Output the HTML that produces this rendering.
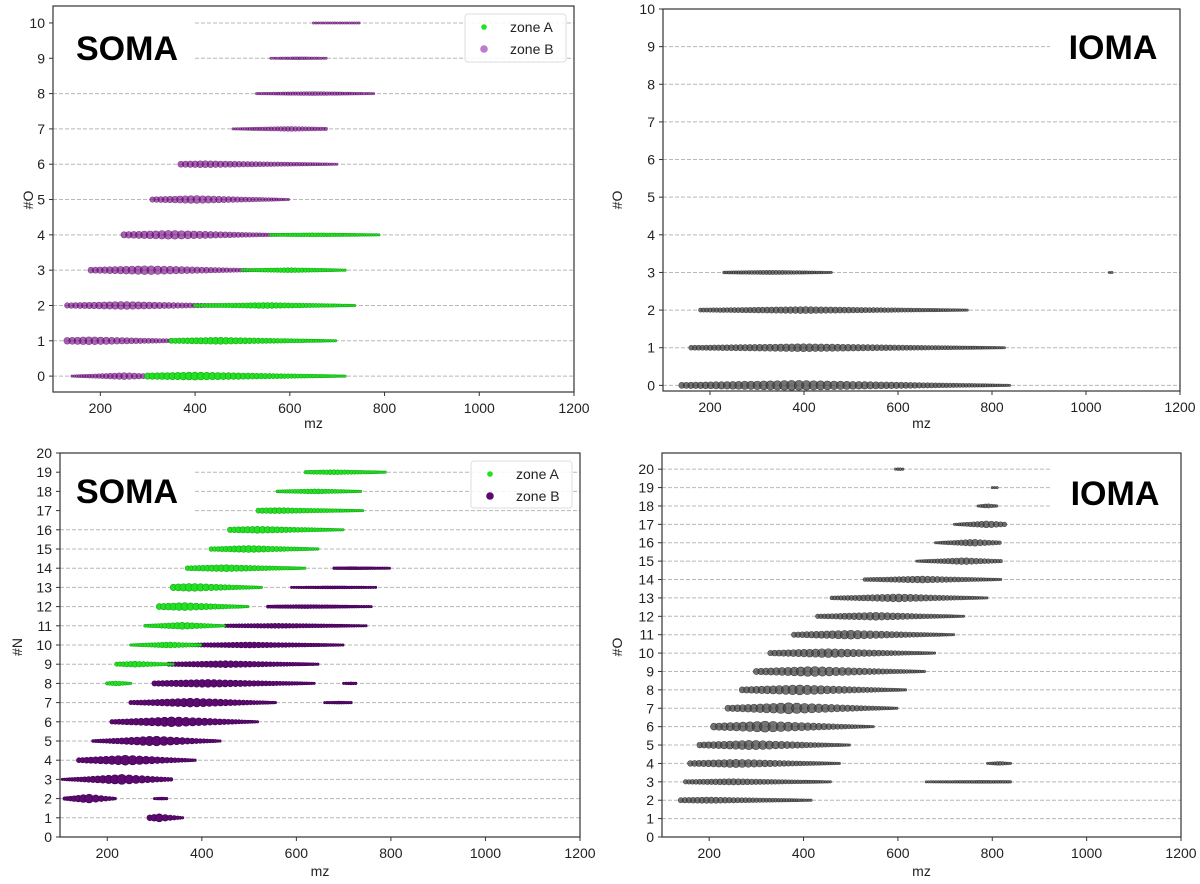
<!DOCTYPE html>
<html><head><meta charset="utf-8">
<style>
html,body{margin:0;padding:0;background:#fff;}
svg{display:block;font-family:"Liberation Sans",sans-serif;}
</style></head>
<body>
<svg id="fig" width="1200" height="884" viewBox="0 0 1200 884" xmlns="http://www.w3.org/2000/svg"></svg>
<script>
// Row tuples: [level, mzFrom, mzTo, mzPeak, peakMarkerRadius]
const somaOxZoneB = [[0,140,320,250,3.5],[1,130,420,180,4],[2,130,520,250,4],[3,180,560,300,4.5],[4,250,600,350,4.5],[5,310,600,400,4],[6,370,700,420,3.5],[7,480,680,600,2.5],[8,530,780,650,2],[9,560,680,620,1.5],[10,650,750,700,1.2]];
const somaOxZoneA = [[0,300,720,400,4],[1,350,700,450,3.5],[2,400,740,550,3],[3,500,720,600,2.5],[4,560,790,650,2]];
const iomaOx = [[0,140,840,380,5],[1,160,830,400,4],[2,180,750,400,3.5],[3,230,460,330,2.2],[3,1050,1056,1053,1.2]];
const somaNZoneB = [[1,290,360,310,4],[2,110,220,160,4.5],[2,300,330,315,1.5],[3,105,340,230,5],[4,140,390,240,5],[5,170,440,300,5],[6,210,520,340,5],[7,250,560,380,4.5],[7,660,720,690,1.5],[8,300,640,410,4],[8,700,730,715,1.5],[9,330,650,450,3.5],[10,380,700,500,3],[11,450,750,560,2.5],[12,540,760,620,2],[13,590,770,680,1.5],[14,680,800,720,1.5]];
const somaNZoneA = [[8,200,250,220,2.5],[9,220,340,260,3],[10,250,400,330,3],[11,280,450,360,3.5],[12,310,500,360,4],[13,340,530,380,4],[14,370,620,450,3.5],[15,420,650,500,3.5],[16,460,700,520,3.5],[17,520,740,560,3],[18,560,740,640,2.5],[19,620,790,680,2.5]];
const iomaOxN = [[2,140,420,200,3.2],[3,150,460,250,3.2],[3,660,840,780,1.5],[4,160,480,260,4.2],[4,790,840,815,2],[5,180,500,290,4.8],[6,210,550,320,5.5],[7,240,600,370,5.5],[8,270,620,390,5],[9,300,660,420,5],[10,330,680,450,4.5],[11,380,720,500,4.5],[12,430,740,550,4],[13,460,790,600,4],[14,530,820,650,3.5],[15,640,820,740,3.5],[16,680,820,760,3.5],[17,720,830,790,3.5],[18,770,810,790,2.2],[19,800,810,805,1.2],[20,595,612,603,1.5]];
const xTicks = [200,400,600,800,1000,1200];

const NS='http://www.w3.org/2000/svg';
const svg=document.getElementById('fig');
function mk(tag,attrs,parent){const e=document.createElementNS(NS,tag);for(const k in attrs)e.setAttribute(k,attrs[k]);(parent||svg).appendChild(e);return e;}

const panels=[
 {key:'top-left',x0:53,x1:574,top:6,bottom:392,ymin:-0.45,ymax:10.48,nTicks:10,ylabel:'#O',ylx:33,yly:200,mzy:428,title:'SOMA',tx:127,ty:60,
  series:[{d:somaOxZoneB,fill:'rgba(110,0,125,0.6)',stroke:'rgba(80,0,95,0.6)',name:'zone-b'},{d:somaOxZoneA,fill:'#22e022',stroke:'#15a815',name:'zone-a'}],
  cut:[[9,195],[10,195]],legend:{x:465,y:14,w:101,h:48,b:'rgba(180,110,200,0.9)'}},
 {key:'top-right',x0:663,x1:1180,top:9,bottom:391,ymin:-0.15,ymax:10,nTicks:10,ylabel:'#O',ylx:622,yly:200,mzy:428,title:'IOMA',tx:1113,ty:59,
  series:[{d:iomaOx,fill:'rgba(70,70,70,0.75)',stroke:'rgba(30,30,30,0.7)',name:'ioma'}],end:[[9,1050]]},
 {key:'bottom-left',x0:60,x1:580,top:453,bottom:837,ymin:0,ymax:20,nTicks:20,ylabel:'#N',ylx:22,yly:647,mzy:876,title:'SOMA',tx:127,ty:503,
  series:[{d:somaNZoneB,fill:'#5c0a70',stroke:'#3e0050',name:'zone-b'},{d:somaNZoneA,fill:'#22e022',stroke:'#15a815',name:'zone-a'}],
  cut:[[17,195],[18,195],[19,195]],legend:{x:471,y:461,w:101,h:47,b:'#5c0a70'}},
 {key:'bottom-right',x0:662,x1:1181,top:453,bottom:837,ymin:0,ymax:20.88,nTicks:20,ylabel:'#O',ylx:622,yly:647,mzy:876,title:'IOMA',tx:1115,ty:505,
  series:[{d:iomaOxN,fill:'rgba(70,70,70,0.75)',stroke:'rgba(30,30,30,0.7)',name:'ioma'}],end:[[18,1052],[19,1052],[20,1052]]}
];

panels.forEach(p=>{
  const g=mk('g',{});
  
  
  const X=v=>p.x0+(v-100)/1100*(p.x1-p.x0);
  const Y=v=>p.bottom-(v-p.ymin)/(p.ymax-p.ymin)*(p.bottom-p.top);
  for(let i=0;i<=p.nTicks;i++){
    let xs=p.x0,xe=p.x1;
    (p.cut||[]).forEach(c=>{if(c[0]===i)xs=c[1];});
    (p.end||[]).forEach(c=>{if(c[0]===i)xe=c[1];});
    const l=mk('line',{x1:xs,x2:xe,y1:Y(i),y2:Y(i),stroke:'#b8b8b8','stroke-width':1,'stroke-dasharray':'4,2'},g);
    
    
    const t=mk('text',{x:p.x0-8,y:Y(i)+5,'text-anchor':'end','font-size':14,fill:'#222'},g);
    t.textContent=i;
    
    
    mk('line',{x1:p.x0-4,x2:p.x0,y1:Y(i),y2:Y(i),stroke:'#333'},g);
  }
  xTicks.forEach(v=>{
    mk('line',{x1:X(v),x2:X(v),y1:p.bottom,y2:p.bottom+4,stroke:'#333'},g);
    const t=mk('text',{x:X(v),y:p.bottom+21,'text-anchor':'middle','font-size':14,fill:'#222'},g);
    t.textContent=v;
    
    
  });
  p.series.forEach(s=>{
    const sg=mk('g',{},g);
    
    
    s.d.forEach(r=>{
      const [lvl,a,b,pk,rm]=r;
      const hw=Math.max(pk-a,b-pk,1);
      let px=X(a);const pe=X(b);
      while(px<=pe+0.1){
        const mz=100+(px-p.x0)/(p.x1-p.x0)*1100;
        const rr=1.2+(rm-1.2)*Math.max(0,1-Math.abs(mz-pk)/hw);
        const c=mk('circle',{cx:px,cy:Y(lvl),r:Math.max(rr,0.9),fill:s.fill,stroke:s.stroke,'stroke-width':0.6},sg);
        
        
        px+=Math.max(2.4,rr*1.5);
      }
    });
  });
  const f=mk('rect',{x:p.x0,y:p.top,width:p.x1-p.x0,height:p.bottom-p.top,fill:'none',stroke:'#333','stroke-width':1.2},g);
  
  
  const yl=mk('text',{x:p.ylx,y:p.yly,'text-anchor':'middle','font-size':14,fill:'#222',transform:`rotate(-90 ${p.ylx} ${p.yly})`},g);
  yl.textContent=p.ylabel;
  
  
  const xl=mk('text',{x:(p.x0+p.x1)/2,y:p.mzy,'text-anchor':'middle','font-size':14,fill:'#222'},g);
  xl.textContent='mz';
  
  
  const tt=mk('text',{x:p.tx,y:p.ty,'text-anchor':'middle','font-size':34,'font-weight':'bold',fill:'#000'},g);
  tt.textContent=p.title;
  
  
  if(p.legend){
    const L=p.legend;
    const lg=mk('g',{},g);
    
    
    mk('rect',{x:L.x,y:L.y,width:L.w,height:L.h,rx:3,fill:'rgba(255,255,255,0.85)',stroke:'#ddd'},lg);
    mk('circle',{cx:L.x+19,cy:L.y+13,r:2.8,fill:'#22e022'},lg);
    mk('circle',{cx:L.x+19,cy:L.y+35,r:3.8,fill:L.b},lg);
    const a=mk('text',{x:L.x+45,y:L.y+18,'font-size':14,fill:'#222'},lg);a.textContent='zone A';
    
    
    const b=mk('text',{x:L.x+45,y:L.y+40,'font-size':14,fill:'#222'},lg);b.textContent='zone B';
    
    
  }
});
</script>
</body></html>
